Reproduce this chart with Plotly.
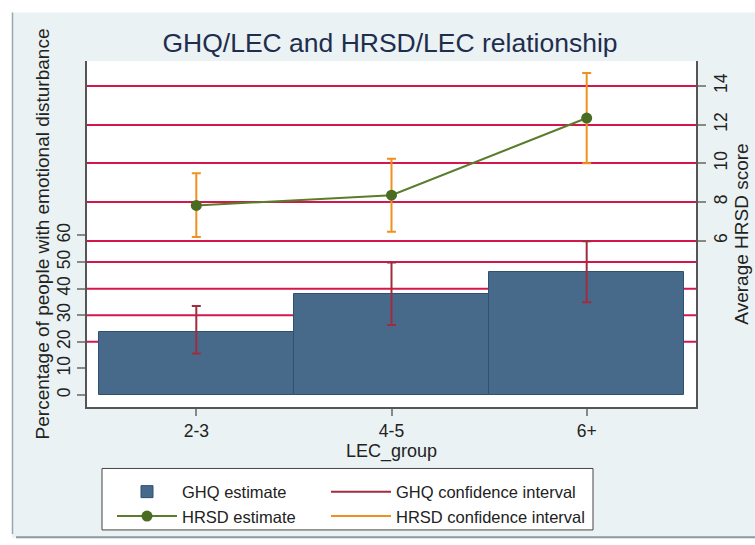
import plotly.graph_objects as go

categories = ["2-3", "4-5", "6+"]
ghq_estimate = [23.8, 37.9, 46.1]
ghq_ci_low = [15.6, 26.3, 34.9]
ghq_ci_high = [33.5, 49.8, 57.8]
hrsd_estimate = [7.82, 8.35, 12.34]
hrsd_ci_low = [6.19, 6.46, 10.0]
hrsd_ci_high = [9.48, 10.24, 14.67]
left_ticks = [0, 10, 20, 30, 40, 50, 60]
left_grid = [20, 30, 40, 50]
right_ticks = [6, 8, 10, 12, 14]

W, H = 755, 545
L, R, T, B = 87, 59, 61, 135
PW, PH = W - L - R, H - T - B

def px(x):
    return (x - L) / PW

def py(y):
    return (H - B - y) / PH

BG = "#eaf2f3"
BAR = "#476a8a"
BAR_LINE = "#2e5071"
GRID = "#d3174b"
GHQ_CI = "#a12c40"
HRSD_CI = "#f0901e"
HRSD_LINE = "#5a7d2c"
HRSD_MARK = "#4a6b22"
FONT = "Liberation Sans, Arial, sans-serif"

xpos = list(range(len(categories)))

fig = go.Figure()

fig.add_trace(go.Bar(
    x=xpos, y=ghq_estimate, width=1.0, name="GHQ estimate",
    marker=dict(color=BAR, line=dict(color=BAR_LINE, width=1)),
    error_y=dict(type="data", symmetric=False,
                 array=[h - v for h, v in zip(ghq_ci_high, ghq_estimate)],
                 arrayminus=[v - l for v, l in zip(ghq_estimate, ghq_ci_low)],
                 color=GHQ_CI, thickness=2, width=4.5),
    legend="legend", hoverinfo="skip",
))

fig.add_trace(go.Scatter(
    x=xpos, y=hrsd_estimate, yaxis="y2", mode="lines+markers", name="HRSD estimate",
    line=dict(color=HRSD_LINE, width=2),
    marker=dict(color=HRSD_MARK, size=11),
    error_y=dict(type="data", symmetric=False,
                 array=[h - v for h, v in zip(hrsd_ci_high, hrsd_estimate)],
                 arrayminus=[v - l for v, l in zip(hrsd_estimate, hrsd_ci_low)],
                 color=HRSD_CI, thickness=2, width=4.5),
    legend="legend", hoverinfo="skip",
))

# legend-only entries for the confidence intervals
fig.add_trace(go.Scatter(x=[None], y=[None], mode="lines", name="GHQ confidence interval",
                         line=dict(color=GHQ_CI, width=2), legend="legend2"))
fig.add_trace(go.Scatter(x=[None], y=[None], mode="lines", name="HRSD confidence interval",
                         line=dict(color=HRSD_CI, width=2), legend="legend2"))

shapes = [
    # graph region background
    dict(type="rect", xref="paper", yref="paper", x0=px(12), x1=px(760), y0=py(542), y1=py(12),
         fillcolor=BG, line=dict(width=0), layer="below"),
    dict(type="line", xref="paper", yref="paper", x0=px(12.5), x1=px(12.5), y0=py(538), y1=py(12),
         line=dict(color="#9aa6b0", width=1.5), layer="below"),
    dict(type="line", xref="paper", yref="paper", x0=px(16), x1=px(760), y0=py(541.5), y1=py(541.5),
         line=dict(color="#8b98a3", width=2), layer="below"),
    # plot area
    dict(type="rect", xref="paper", yref="paper", x0=0, x1=1, y0=0, y1=1,
         fillcolor="white", line=dict(width=0), layer="below"),
    # legend box
    dict(type="rect", xref="paper", yref="paper", x0=px(102), x1=px(593), y0=py(534), y1=py(472),
         fillcolor="white", line=dict(color="#444444", width=1), layer="below"),
]
for g in left_grid:
    shapes.append(dict(type="line", xref="paper", yref="y", x0=0, x1=1, y0=g, y1=g,
                       line=dict(color=GRID, width=2), layer="below"))

fig.update_layout(
    width=W, height=H,
    margin=dict(l=L, r=R, t=T, b=B),
    paper_bgcolor="white",
    plot_bgcolor="rgba(0,0,0,0)",
    font=dict(family=FONT, size=17, color="#222222"),
    bargap=0,
    title=dict(text="GHQ/LEC and HRSD/LEC relationship", x=px(390), xref="paper", xanchor="center",
               y=1 - 43 / H, yref="container", yanchor="middle",
               font=dict(family=FONT, size=26.5, color="#1f2d4f")),
    shapes=shapes,
    xaxis=dict(range=[-0.56, 2.56], tickvals=xpos, ticktext=categories, automargin=False,
               ticks="outside", ticklen=7, tickwidth=1.5, tickcolor="#888888",
               showline=True, linecolor="#555555", linewidth=1.5, showgrid=False, zeroline=False,
               title=dict(text="LEC_group", standoff=3, font=dict(size=18)),
               tickfont=dict(size=17.5)),
    yaxis=dict(range=[-4.5, 125.6], tickvals=left_ticks, tickangle=-90, automargin=False,
               ticks="outside", ticklen=8, tickwidth=1.5, tickcolor="#888888",
               showline=True, linecolor="#555555", linewidth=1.5, showgrid=False, zeroline=False,
               title=dict(text="Percentage of people with emotional disturbance", standoff=0,
                          font=dict(size=19)),
               tickfont=dict(size=17.5)),
    yaxis2=dict(range=[-2.6, 15.29], tickvals=right_ticks, tickangle=-90, overlaying="y", side="right",
                automargin=False,
                ticks="outside", ticklen=8, tickwidth=1.5, tickcolor="#888888",
                showline=True, linecolor="#555555", linewidth=1.5,
                showgrid=True, gridcolor=GRID, gridwidth=2, zeroline=False,
                title=dict(text="Average HRSD score", standoff=0, font=dict(size=19)),
                tickfont=dict(size=17.5)),
    legend=dict(x=px(112), y=py(478), xanchor="left", yanchor="top", bgcolor="rgba(0,0,0,0)",
                font=dict(size=16.5, color="#222222"), itemwidth=60, tracegroupgap=0,
                orientation="v"),
    legend2=dict(x=px(326), y=py(478), xanchor="left", yanchor="top", bgcolor="rgba(0,0,0,0)",
                 font=dict(size=16.5, color="#222222"), itemwidth=60, tracegroupgap=0,
                 orientation="v"),
)

fig.write_html("out.html", config={"displayModeBar": False},
               post_script="document.body.style.margin='0';document.body.style.overflow='hidden';")
